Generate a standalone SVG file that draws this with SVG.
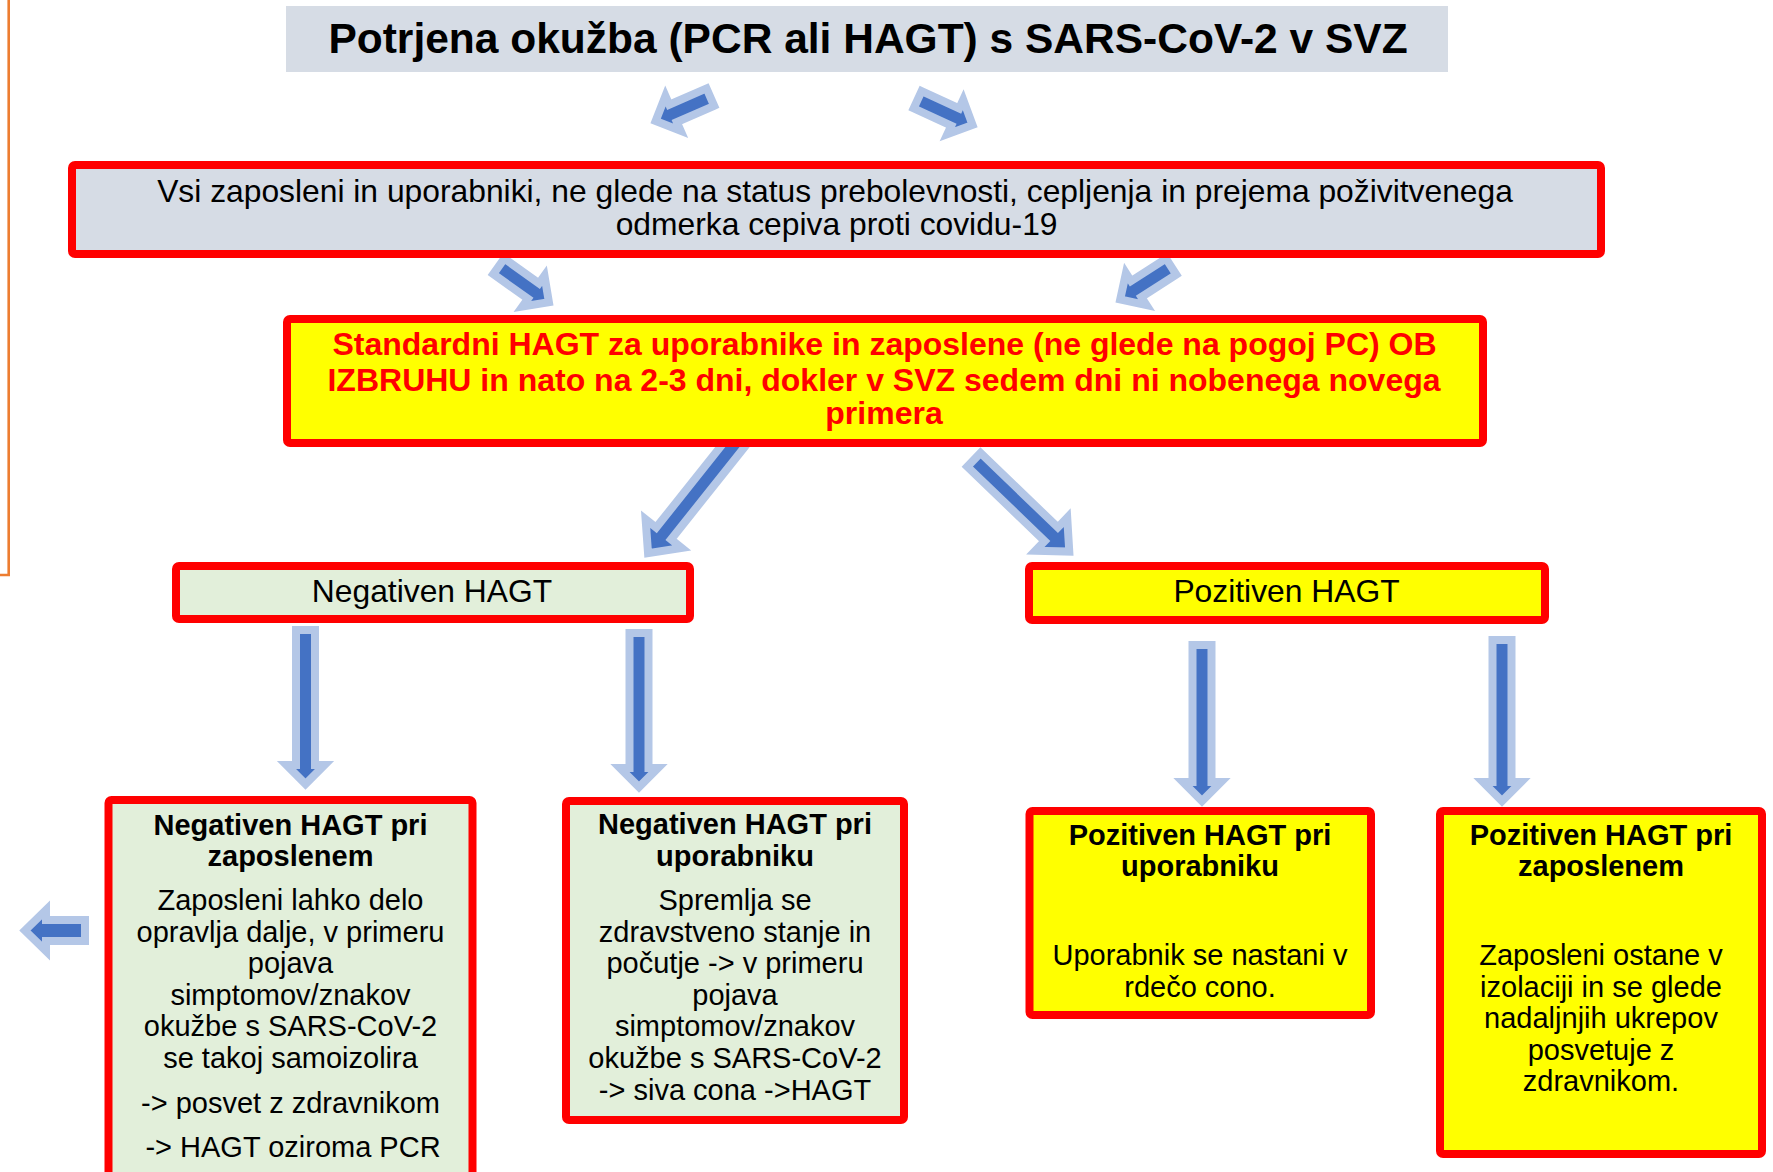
<svg xmlns="http://www.w3.org/2000/svg" width="1773" height="1172" viewBox="0 0 1773 1172">
<style>
text{font-family:"Liberation Sans",Arial,Helvetica,sans-serif;fill:#000;text-anchor:middle}
.arr{fill:#4472c4;stroke:#b4c7e7;stroke-width:8;stroke-linejoin:miter}
.box{stroke:#ff0000;stroke-width:8}
.gray{fill:#d6dce5}
.yel{fill:#ffff00}
.grn{fill:#e2efda}
.b{font-weight:bold}
.red{fill:#ff0000}
.s29{font-size:29px}
.s32{font-size:31.8px}
</style>
<rect width="1773" height="1172" fill="#ffffff"/>
<path d="M0 575 H8.7 V0" fill="none" stroke="#ed7d31" stroke-width="2.6"/>

<g id="connectors">
  <polygon class="arr" transform="translate(714,95.5) rotate(156.4)" points="4,-9.5 44.7,-9.5 44.7,-19 63.7,0 44.7,19 44.7,9.5 4,9.5"/>
  <polygon class="arr" transform="translate(914,98) rotate(24.7)" points="4,-9.5 45.4,-9.5 45.4,-19 64.4,0 45.4,19 45.4,9.5 4,9.5"/>
  <polygon class="arr" transform="translate(495.5,264) rotate(35.5)" points="4,-9.5 46.6,-9.5 46.6,-19 65.6,0 46.6,19 46.6,9.5 4,9.5"/>
  <polygon class="arr" transform="translate(1174.5,264.5) rotate(147.3)" points="4,-9.5 45.5,-9.5 45.5,-19 64.5,0 45.5,19 45.5,9.5 4,9.5"/>
  <polygon class="arr" transform="translate(738,440) rotate(128.5)" points="0,-9.5 119.5,-9.5 119.5,-23 144.5,0 119.5,23 119.5,9.5 0,9.5"/>
  <polygon class="arr" transform="translate(971,457) rotate(43.9)" points="4,-9.5 111.4,-9.5 111.4,-23 136.4,0 111.4,23 111.4,9.5 4,9.5"/>
  <polygon class="arr" points="296,630 315,630 315,765 324.5,765 305.5,784 286.5,765 296,765"/>
  <polygon class="arr" points="629.5,633 648.5,633 648.5,768 658,768 639,787 620,768 629.5,768"/>
  <polygon class="arr" points="1192.5,645 1211.5,645 1211.5,782 1221,782 1202,801 1183,782 1192.5,782"/>
  <polygon class="arr" points="1492.5,640 1511.5,640 1511.5,782 1521,782 1502,801 1483,782 1492.5,782"/>
  <polygon class="arr" transform="translate(89,930.5) rotate(180)" points="4,-10.5 43,-10.5 43,-20.5 64,0 43,20.5 43,10.5 4,10.5"/>
</g>

<g id="title">
  <rect class="gray" x="286" y="6" width="1162" height="66"/>
  <text class="b" x="868" y="53" font-size="42.5">Potrjena okužba (PCR ali HAGT) s SARS-CoV-2 v SVZ</text>
</g>

<g id="all-staff">
  <rect class="box gray" x="72" y="165" width="1529" height="89" rx="3"/>
  <text class="s32" x="835" y="202">Vsi zaposleni in uporabniki, ne glede na status prebolevnosti, cepljenja in prejema poživitvenega</text>
  <text class="s32" x="836.6" y="235">odmerka cepiva proti covidu-19</text>
</g>

<g id="standard-hagt">
  <rect class="box yel" x="287" y="319" width="1196" height="124" rx="3"/>
  <text class="b red" x="884.5" y="355" font-size="32">Standardni HAGT za uporabnike in zaposlene (ne glede na pogoj PC) OB</text>
  <text class="b red" x="884" y="391" font-size="32">IZBRUHU in nato na 2-3 dni, dokler v SVZ sedem dni ni nobenega novega</text>
  <text class="b red" x="884" y="424" font-size="32">primera</text>
</g>

<g id="negative">
  <rect class="box grn" x="176" y="566" width="514" height="53" rx="3"/>
  <text class="s32" x="432" y="602">Negativen HAGT</text>
</g>

<g id="positive">
  <rect class="box yel" x="1029" y="566" width="516" height="54" rx="3"/>
  <text class="s32" x="1286.5" y="602">Pozitiven HAGT</text>
</g>

<g id="neg-employee">
  <rect class="box grn" x="108.5" y="800" width="364" height="420" rx="3"/>
  <text class="b s29" x="290.5" y="834.5">Negativen HAGT pri</text>
  <text class="b s29" x="290.5" y="866">zaposlenem</text>
  <text class="s29" x="290.5" y="910">Zaposleni lahko delo</text>
  <text class="s29" x="290.5" y="941.6">opravlja dalje, v primeru</text>
  <text class="s29" x="290.5" y="973.2">pojava</text>
  <text class="s29" x="290.5" y="1004.8">simptomov/znakov</text>
  <text class="s29" x="290.5" y="1036.4">okužbe s SARS-CoV-2</text>
  <text class="s29" x="290.5" y="1068">se takoj samoizolira</text>
  <text class="s29" x="290.5" y="1113">-&gt; posvet z zdravnikom</text>
  <text class="s29" x="293" y="1157">-&gt; HAGT oziroma PCR</text>
</g>

<g id="neg-user">
  <rect class="box grn" x="566" y="801" width="338" height="319" rx="3"/>
  <text class="b s29" x="735" y="834">Negativen HAGT pri</text>
  <text class="b s29" x="735" y="866">uporabniku</text>
  <text class="s29" x="735" y="910">Spremlja se</text>
  <text class="s29" x="735" y="941.6">zdravstveno stanje in</text>
  <text class="s29" x="735" y="973.2">počutje -&gt; v primeru</text>
  <text class="s29" x="735" y="1004.8">pojava</text>
  <text class="s29" x="735" y="1036.4">simptomov/znakov</text>
  <text class="s29" x="735" y="1068">okužbe s SARS-CoV-2</text>
  <text class="s29" x="735" y="1099.6">-&gt; siva cona -&gt;HAGT</text>
</g>

<g id="pos-user">
  <rect class="box yel" x="1029.5" y="811" width="341.5" height="204" rx="3"/>
  <text class="b s29" x="1200" y="844.5">Pozitiven HAGT pri</text>
  <text class="b s29" x="1200" y="875.5">uporabniku</text>
  <text class="s29" x="1200" y="965">Uporabnik se nastani v</text>
  <text class="s29" x="1200" y="996.5">rdečo cono.</text>
</g>

<g id="pos-employee">
  <rect class="box yel" x="1440" y="811" width="322" height="343" rx="3"/>
  <text class="b s29" x="1601" y="844.5">Pozitiven HAGT pri</text>
  <text class="b s29" x="1601" y="875.5">zaposlenem</text>
  <text class="s29" x="1601" y="965">Zaposleni ostane v</text>
  <text class="s29" x="1601" y="996.5">izolaciji in se glede</text>
  <text class="s29" x="1601" y="1028">nadaljnjih ukrepov</text>
  <text class="s29" x="1601" y="1059.5">posvetuje z</text>
  <text class="s29" x="1601" y="1091">zdravnikom.</text>
</g>
</svg>
